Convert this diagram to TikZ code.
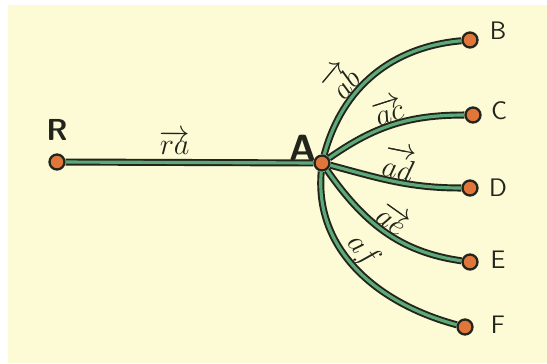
\documentclass[tikz,border=0pt]{standalone}
\usepackage{amsmath}
\definecolor{paper}{HTML}{FDFBD6}
\definecolor{ink}{HTML}{22251C}
\definecolor{leaf}{HTML}{5DAA78}
\definecolor{dotfill}{HTML}{E0763A}

\begin{document}
\begin{tikzpicture}
[
	dot/.style={circle,draw=ink,line width=1.3pt,fill=dotfill,inner sep=0pt,minimum size=0.3cm},
	edge/.style={draw=ink,line width=1.1pt,double=leaf,double distance=1.8pt},
	tag/.style={font=\sffamily\Large,text=ink},
	lbl/.style={font=\LARGE,text=ink,sloped,above,inner sep=1pt}
]

	% paper
	\useasboundingbox (0,0) rectangle (10.94,7.26);
	\fill[paper] (0.16,0) rectangle (10.94,7.16);

	% points
	\node[dot,label={[tag,font=\sffamily\LARGE\bfseries,label distance=4pt]above:R}] (R) at (1.14,4.02) {};
	\node[dot] (A) at (6.44,4.00) {};
	\node[dot] (B) at (9.40,6.46) {};
	\node[dot] (C) at (9.46,4.96) {};
	\node[dot] (D) at (9.40,3.50) {};
	\node[dot] (E) at (9.40,2.02) {};
	\node[dot] (F) at (9.30,0.72) {};

	\node[tag,font=\sffamily\huge\bfseries] (Atag) at (6.06,4.30) {A};
	\node[tag] (Btag) at (9.96,6.64) {B};
	\node[tag] (Ctag) at (9.98,5.04) {C};
	\node[tag] (Dtag) at (9.96,3.50) {D};
	\node[tag] (Etag) at (9.96,2.06) {E};
	\node[tag] (Ftag) at (9.96,0.76) {F};

	% branches
	\draw[edge] (R) -- node[lbl,pos=0.44,yshift=3pt] {$\overrightarrow{ra}$} (A);
	\draw[edge] (A) to[out=75,in=185] node[lbl,pos=0.36] {$\overrightarrow{ab}$} (B);
	\draw[edge] (A) to[out=35,in=180] node[lbl,pos=0.5] {$\overrightarrow{ac}$} (C);
	\draw[edge] (A) to[out=-15,in=180] node[lbl,pos=0.5] {$\overrightarrow{ad}$} (D);
	\draw[edge] (A) to[out=-55,in=172] node[lbl,pos=0.5] {$\overrightarrow{ae}$} (E);
	\draw[edge] (A) to[out=-95,in=165] node[lbl,pos=0.45] {$af$} (F);

\end{tikzpicture}
\end{document}
